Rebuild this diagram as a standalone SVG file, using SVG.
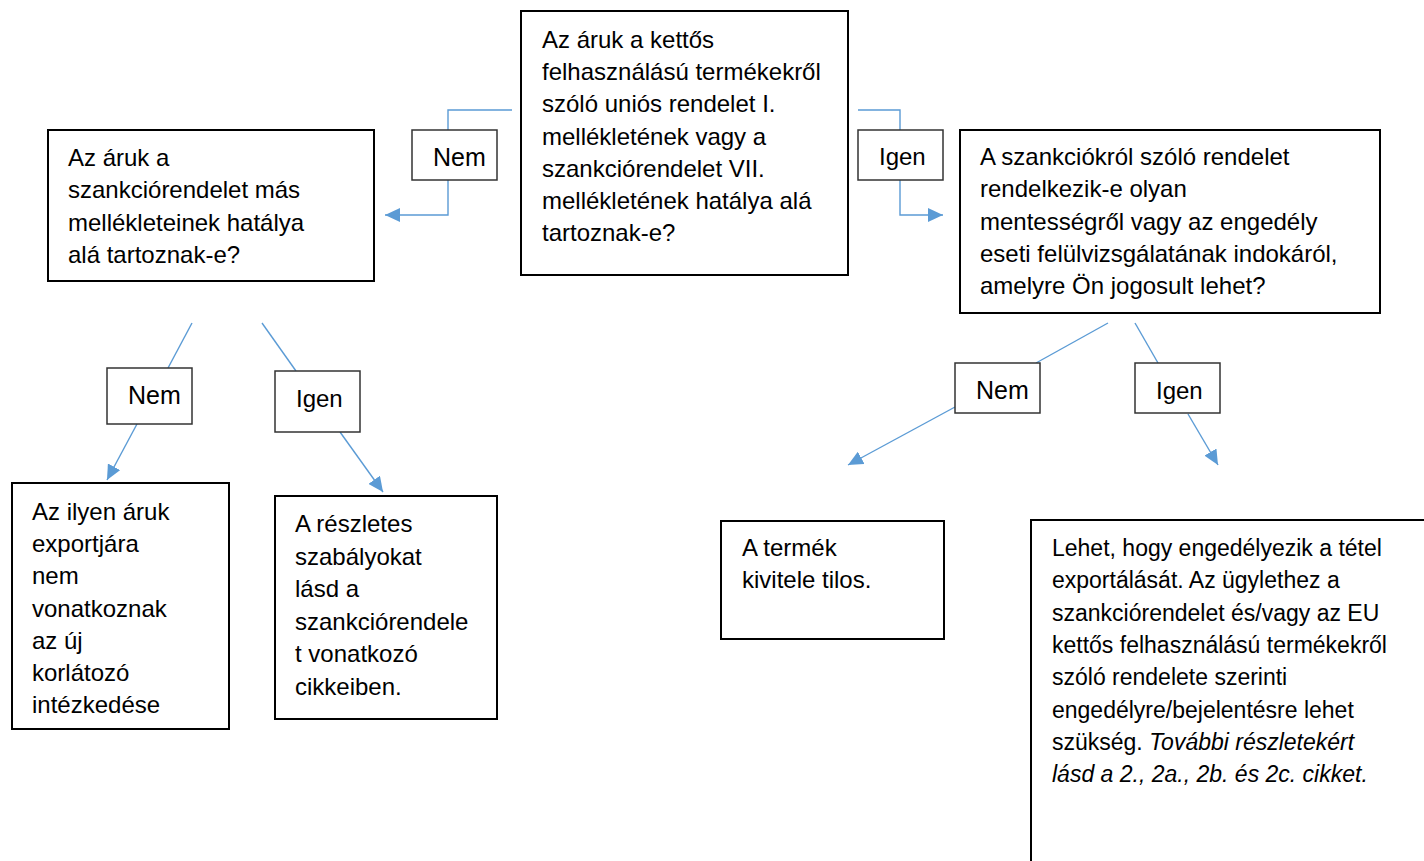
<svg xmlns="http://www.w3.org/2000/svg" width="1424" height="861" viewBox="0 0 1424 861">
<style>
text{font-family:"Liberation Sans",Arial,sans-serif;font-size:24px;fill:#000}
.box{fill:#fff;stroke:#000;stroke-width:2}
.lbl{fill:#fff;stroke:#333;stroke-width:1.5}
.con{fill:none;stroke:#5B9BD5;stroke-width:1.4}
.sm{font-size:23px}
.it{font-style:italic}
.big{font-size:25px}
</style>
<defs>
<marker id="arr" viewBox="0 0 15 14" refX="15" refY="7" markerWidth="15" markerHeight="14" orient="auto" markerUnits="userSpaceOnUse">
<path d="M0,0 L15,7 L0,14 z" fill="#5B9BD5"/>
</marker>
</defs>
<rect width="1424" height="861" fill="#fff"/>
<g id="connectors">
<polyline class="con" points="512,110 448,110 448,130"/>
<polyline class="con" points="448,180 448,215 385,215" marker-end="url(#arr)"/>
<polyline class="con" points="858,110 900,110 900,130"/>
<polyline class="con" points="900,180 900,215 943,215" marker-end="url(#arr)"/>
<line class="con" x1="192" y1="323" x2="168" y2="368"/>
<line class="con" x1="137" y1="424" x2="107" y2="480" marker-end="url(#arr)"/>
<line class="con" x1="262" y1="323" x2="296" y2="371"/>
<line class="con" x1="340" y1="432" x2="383" y2="492" marker-end="url(#arr)"/>
<line class="con" x1="1108" y1="323" x2="1036" y2="363"/>
<line class="con" x1="955" y1="407" x2="848" y2="465" marker-end="url(#arr)"/>
<line class="con" x1="1135" y1="323" x2="1158" y2="363"/>
<line class="con" x1="1188" y1="414" x2="1218" y2="465" marker-end="url(#arr)"/>
</g>
<g id="q1">
<rect class="box" x="521" y="11" width="327" height="264"/>
<text x="542" y="48">Az áruk a kettős</text>
<text x="542" y="80">felhasználású termékekről</text>
<text x="542" y="112">szóló uniós rendelet I.</text>
<text x="542" y="145">mellékletének vagy a</text>
<text x="542" y="177">szankciórendelet VII.</text>
<text x="542" y="209">mellékletének hatálya alá</text>
<text x="542" y="241">tartoznak-e?</text>
</g>
<g id="q2">
<rect class="box" x="48" y="130" width="326" height="151"/>
<text x="68" y="166">Az áruk a</text>
<text x="68" y="198">szankciórendelet más</text>
<text x="68" y="231">mellékleteinek hatálya</text>
<text x="68" y="263">alá tartoznak-e?</text>
</g>
<g id="lbl-nem1">
<rect class="lbl" x="412" y="130" width="85" height="50"/>
<text class="big" x="433" y="166">Nem</text>
</g>
<g id="lbl-igen1">
<rect class="lbl" x="858" y="130" width="85" height="50"/>
<text x="879" y="165">Igen</text>
</g>
<g id="q3">
<rect class="box" x="960" y="130" width="420" height="183"/>
<text x="980" y="165">A szankciókról szóló rendelet</text>
<text x="980" y="197">rendelkezik-e olyan</text>
<text x="980" y="230">mentességről vagy az engedély</text>
<text x="980" y="262">eseti felülvizsgálatának indokáról,</text>
<text x="980" y="294">amelyre Ön jogosult lehet?</text>
</g>
<g id="lbl-nem2">
<rect class="lbl" x="107" y="368" width="85" height="56"/>
<text class="big" x="128" y="404">Nem</text>
</g>
<g id="lbl-igen2">
<rect class="lbl" x="275" y="371" width="85" height="61"/>
<text x="296" y="407">Igen</text>
</g>
<g id="lbl-nem3">
<rect class="lbl" x="955" y="363" width="85" height="50"/>
<text class="big" x="976" y="399">Nem</text>
</g>
<g id="lbl-igen3">
<rect class="lbl" x="1135" y="363" width="85" height="50"/>
<text x="1156" y="399">Igen</text>
</g>
<g id="r1">
<rect class="box" x="12" y="483" width="217" height="246"/>
<text x="32" y="520">Az ilyen áruk</text>
<text x="32" y="552">exportjára</text>
<text x="32" y="584">nem</text>
<text x="32" y="617">vonatkoznak</text>
<text x="32" y="649">az új</text>
<text x="32" y="681">korlátozó</text>
<text x="32" y="713">intézkedése</text>
</g>
<g id="r2">
<rect class="box" x="275" y="496" width="222" height="223"/>
<text x="295" y="532">A részletes</text>
<text x="295" y="565">szabályokat</text>
<text x="295" y="597">lásd a</text>
<text x="295" y="630">szankciórendele</text>
<text x="295" y="662">t vonatkozó</text>
<text x="295" y="695">cikkeiben.</text>
</g>
<g id="r3">
<rect class="box" x="721" y="521" width="223" height="118"/>
<text x="742" y="556">A termék</text>
<text x="742" y="588">kivitele tilos.</text>
</g>
<g id="r4">
<rect class="box" x="1031" y="520" width="420" height="400"/>
<text class="sm" x="1052" y="556">Lehet, hogy engedélyezik a tétel</text>
<text class="sm" x="1052" y="588">exportálását. Az ügylethez a</text>
<text class="sm" x="1052" y="621">szankciórendelet és/vagy az EU</text>
<text class="sm" x="1052" y="653">kettős felhasználású termékekről</text>
<text class="sm" x="1052" y="685">szóló rendelete szerinti</text>
<text class="sm" x="1052" y="718">engedélyre/bejelentésre lehet</text>
<text class="sm" x="1052" y="750">szükség. <tspan class="it">További részletekért</tspan></text>
<text class="sm it" x="1052" y="782">lásd a 2., 2a., 2b. és 2c. cikket.</text>
</g>
</svg>
